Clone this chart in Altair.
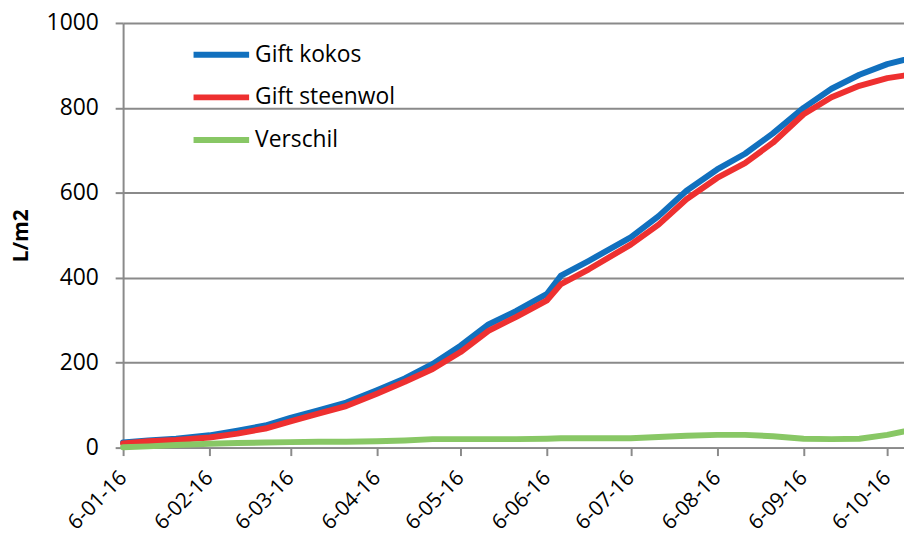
import altair as alt
import pandas as pd

dates = ["2016-01-06", "2016-01-15", "2016-01-25", "2016-02-06", "2016-02-16",
         "2016-02-26", "2016-03-06", "2016-03-16", "2016-03-26", "2016-04-06",
         "2016-04-16", "2016-04-26", "2016-05-06", "2016-05-16", "2016-05-26",
         "2016-06-06", "2016-06-11", "2016-06-21", "2016-07-06", "2016-07-16",
         "2016-07-26", "2016-08-06", "2016-08-16", "2016-08-26", "2016-09-06",
         "2016-09-16", "2016-09-26", "2016-10-06", "2016-10-12"]
kokos = [12, 17, 21, 29, 40, 52, 70, 88, 106, 135, 163, 197, 240, 290, 322,
         362, 405, 440, 495, 545, 605, 655, 692, 740, 800, 845, 878, 903, 913]
steenwol = [10, 15, 18, 24, 33, 45, 62, 80, 98, 127, 155, 185, 225, 275, 308,
            347, 385, 420, 478, 525, 585, 635, 670, 718, 785, 825, 852, 870, 876]
verschil = [1, 3, 6, 9, 11, 12, 13, 14, 14, 15, 17, 20, 20, 20, 20,
            21, 22, 22, 22, 25, 28, 30, 30, 27, 21, 20, 21, 30, 38]

series_names = ["Gift kokos", "Gift steenwol", "Verschil"]
series_colors = ["#1170BE", "#EE3030", "#88C765"]
tick_months = [1, 2, 3, 4, 5, 6, 7, 8, 9, 10]
y_ticks = [0, 200, 400, 600, 800, 1000]

rows = []
for name, vals in zip(series_names, [kokos, steenwol, verschil]):
    for d, v in zip(dates, vals):
        rows.append({"date": d, "value": v, "serie": name})
df = pd.DataFrame(rows)

tick_values = [alt.DateTime(year=2016, month=m, date=6, utc=True) for m in tick_months]
x_domain = [alt.DateTime(year=2016, month=1, date=6, utc=True),
            alt.DateTime(year=2016, month=10, date=12, utc=True)]

FONT = "Open Sans"

chart = alt.Chart(df).mark_line(strokeWidth=6, strokeCap="round", strokeJoin="round").encode(
    x=alt.X("date:T",
            scale=alt.Scale(type="utc", domain=x_domain),
            axis=alt.Axis(values=tick_values,
                          labelExpr="utcFormat(datum.value, '%-d-%m-%y')",
                          labelAngle=-45, labelAlign="right", labelBaseline="middle",
                          grid=False, labelFontSize=21,
                          labelPadding=19, title=None)),
    y=alt.Y("value:Q",
            scale=alt.Scale(domain=[0, 1000], nice=False),
            axis=alt.Axis(values=y_ticks, grid=True, labelFontSize=23, format="d",
                          labelPadding=17, title="L/m2", titleFontSize=21,
                          titleFontWeight="bold", titlePadding=15)),
    color=alt.Color("serie:N",
                    scale=alt.Scale(domain=series_names, range=series_colors),
                    legend=alt.Legend(title=None, orient="none", legendX=68, legendY=17,
                                      symbolType="stroke", symbolSize=3136,
                                      symbolStrokeWidth=6, clipHeight=30, rowPadding=13,
                                      labelFontSize=23, labelFont=FONT, labelOffset=3,
                                      padding=0, labelColor="black")),
    detail="serie:N",
).properties(
    width=787,
    height=428,
    autosize=alt.AutoSizeParams(type="none"),
    padding={"left": 116, "top": 13, "right": 0, "bottom": 87},
).configure_view(
    stroke=None
).configure_axis(
    labelFont=FONT, titleFont=FONT, labelColor="black", titleColor="black",
    domainColor="#8A8A8A", domainWidth=2, gridColor="#8A8A8A", gridWidth=2,
    tickColor="#8A8A8A", tickWidth=2, tickSize=8
)

chart.save("out.html", embed_options={"renderer": "svg", "actions": False})
